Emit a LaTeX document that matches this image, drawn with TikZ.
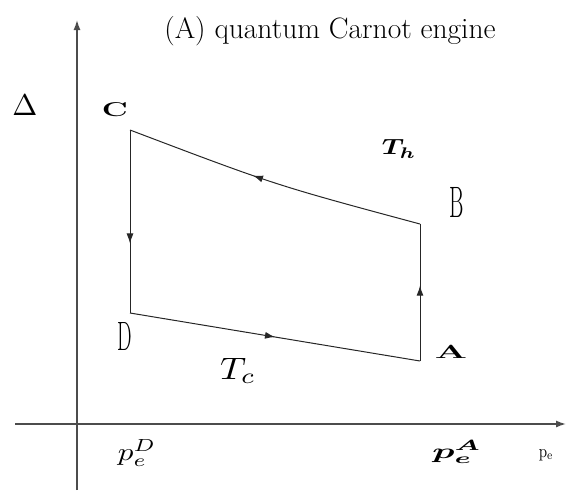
\documentclass[tikz,border=0pt]{standalone}
\usepackage{amsmath,bm}
\usetikzlibrary{arrows.meta,decorations.markings}
\tikzset{
  axis/.style={draw=black!70, line width=1.4pt, -{Latex[length=10pt,width=7pt]}},
  cyc/.style={draw=black!85, line width=1pt},
  midarrow/.style={postaction={decorate},decoration={markings,mark=at position #1 with {\arrow{Latex[length=10pt,width=7pt]}}}},
  lbl/.style={inner sep=0pt, anchor=center},
}
\begin{document}
\begin{tikzpicture}[x=1pt,y=-1pt]
\useasboundingbox (0,0) rectangle (566,493);
% axes
\coordinate (yb) at (77,490);
\coordinate (yt) at (77,20);
\coordinate (xl) at (15,424);
\coordinate (xr) at (566,424);
\draw[axis] (yb) -- (yt);
\draw[axis] (xl) -- (xr);
% cycle vertices
\coordinate (C) at (130,130);
\coordinate (B) at (420,224);
\coordinate (A) at (420,361);
\coordinate (D) at (130,313);
\draw[cyc, midarrow=0.57] (B) .. controls (275,185) .. (C);
\draw[cyc, midarrow=0.62] (C) -- (D);
\draw[cyc, midarrow=0.5] (D) -- (A);
\draw[cyc, midarrow=0.55] (A) -- (B);
% labels
\node[lbl] (title) at (330,31) {\fontsize{29.5}{32}\selectfont (A) quantum Carnot engine};
\node[lbl] (delta) at (25,105) {\scalebox{3}{$\Delta$}};
\node[lbl] (lC) at (115,110) {\scalebox{1.6}[1]{\fontsize{20}{22}\selectfont\textbf{C}}};
\node[lbl] (lTh) at (399,149) {\scalebox{2.8}[2.2]{$\bm{T_h}$}};
\node[lbl] (lB) at (457,202) {\scalebox{0.5}[1]{\fontsize{44}{46}\selectfont B}};
\node[lbl] (lD) at (125,336) {\scalebox{0.5}[1]{\fontsize{41}{43}\selectfont D}};
\node[lbl] (lA) at (451,352) {\scalebox{2}[1]{\fontsize{19}{21}\selectfont\textbf{A}}};
\node[lbl] (lTc) at (238,371) {\scalebox{3.6}[3.1]{$T_c$}};
\node[lbl] (lpD) at (137,453) {\scalebox{3.1}[2.5]{$p_e^D$}};
\node[lbl] (lpA) at (457,452) {\scalebox{3.7}[2.1]{$\bm{p_e^A}$}};
\node[lbl] (lpe) at (546,455) {\scalebox{1.5}[1.8]{$\mathrm{p}_{\mathrm{e}}$}};
\end{tikzpicture}
\end{document}
